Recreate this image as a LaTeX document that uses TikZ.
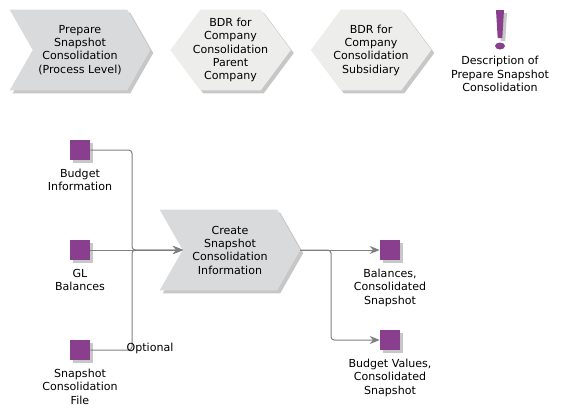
\documentclass[tikz,border=0pt]{standalone}
\usepackage{fontspec}
\setmainfont{DejaVu Sans}
\usepackage{xcolor}
\usetikzlibrary{arrows.meta,positioning,calc,shadows,backgrounds}
\definecolor{procx}{HTML}{D9DADC}
\definecolor{ifacex}{HTML}{EDEDEB}
\definecolor{purplex}{HTML}{8A3F8E}
\definecolor{linex}{HTML}{7F7F7F}
\newcommand{\procshape}[1]{\fill[procx, shad] (#1.north west) -- ($(#1.north east)+(-23,0)$) -- (#1.east) -- ($(#1.south east)+(-23,0)$) -- (#1.south west) -- ($(#1.west)+(23,0)$) -- cycle;}
\newcommand{\hexshape}[1]{\fill[ifacex, shad] ($(#1.north west)+(30,0)$) -- ($(#1.north east)+(-30,0)$) -- (#1.east) -- ($(#1.south east)+(-30,0)$) -- ($(#1.south west)+(30,0)$) -- (#1.west) -- cycle;}

\begin{document}
\begin{tikzpicture}[
  x=0.75pt, y=-0.75pt,
  shad/.style={drop shadow={shadow xshift=2.25pt, shadow yshift=-2.25pt, fill=black, opacity=0.22}},
  txt/.style={align=center, font=\fontsize{8.3}{10}\selectfont, inner sep=0pt},
  proc/.style={txt, minimum width=105pt, minimum height=60pt},
  iface/.style={txt, minimum width=90pt, minimum height=60pt},
  res/.style={fill=purplex, shad, minimum size=15pt, inner sep=0pt},
  arr/.style={draw=linex, line width=0.75pt, rounded corners=2.5pt},
  arrh/.style={arr, -{Stealth[length=7.5pt, width=6pt]}},
  node distance=15pt]
\useasboundingbox (0,0) rectangle (565,418);
% top row
\node[proc] (prep) at (80,50) {Prepare\\Snapshot\\Consolidation\\(Process Level)};
\node[iface, right=of prep] (parent) {BDR for\\Company\\Consolidation\\Parent\\Company};
\node[iface, right=of parent] (subs) {BDR for\\Company\\Consolidation\\Subsidiary};
\node[txt] (desc) at (500,74) {Description of\\Prepare Snapshot\\Consolidation};
\fill[purplex, shad] (496,10) -- (504,10) -- (502.3,38) -- (497.7,38) -- cycle;
\fill[purplex] (500,46) ellipse (5 and 3.5);
% inputs
\node[res] (budget) at (80,150) {};
\node[res] (gl) at (80,250) {};
\node[res] (file) at (80,350) {};
\node[txt, below=6.5pt of budget] (budgetl) {Budget\\Information};
\node[txt, below=6.5pt of gl] (gll) {GL\\Balances};
\node[txt, below=6.5pt of file] (filel) {Snapshot\\Consolidation\\File};
% function
\node[proc] (create) at (230,250) {Create\\Snapshot\\Consolidation\\Information};
\coordinate (notch) at (183,250);
\coordinate (bus) at (132,250);
% outputs
\node[res] (bal) at (390,250) {};
\node[res] (bud) at (390,340) {};
\node[txt, below=6.5pt of bal] (ball) {Balances,\\Consolidated\\Snapshot};
\node[txt, below=6.5pt of bud] (budl) {Budget Values,\\Consolidated\\Snapshot};
\coordinate (split) at (331,250);
\begin{scope}[on background layer]
\procshape{prep}
\hexshape{parent}
\hexshape{subs}
\procshape{create}
\end{scope}
\draw[arrh] (budget.east) -| (bus) -- (notch);
\draw[arrh] (file.east) -| (bus) -- (notch);
\draw[arrh] (gl.east) -- (notch);
\draw[arrh] (create.east) -- (bal.west);
\draw[arrh] (create.east) -- (split) |- (bud.west);
\node[txt] (opt) at (150,348.5) {Optional};
\end{tikzpicture}
\end{document}
